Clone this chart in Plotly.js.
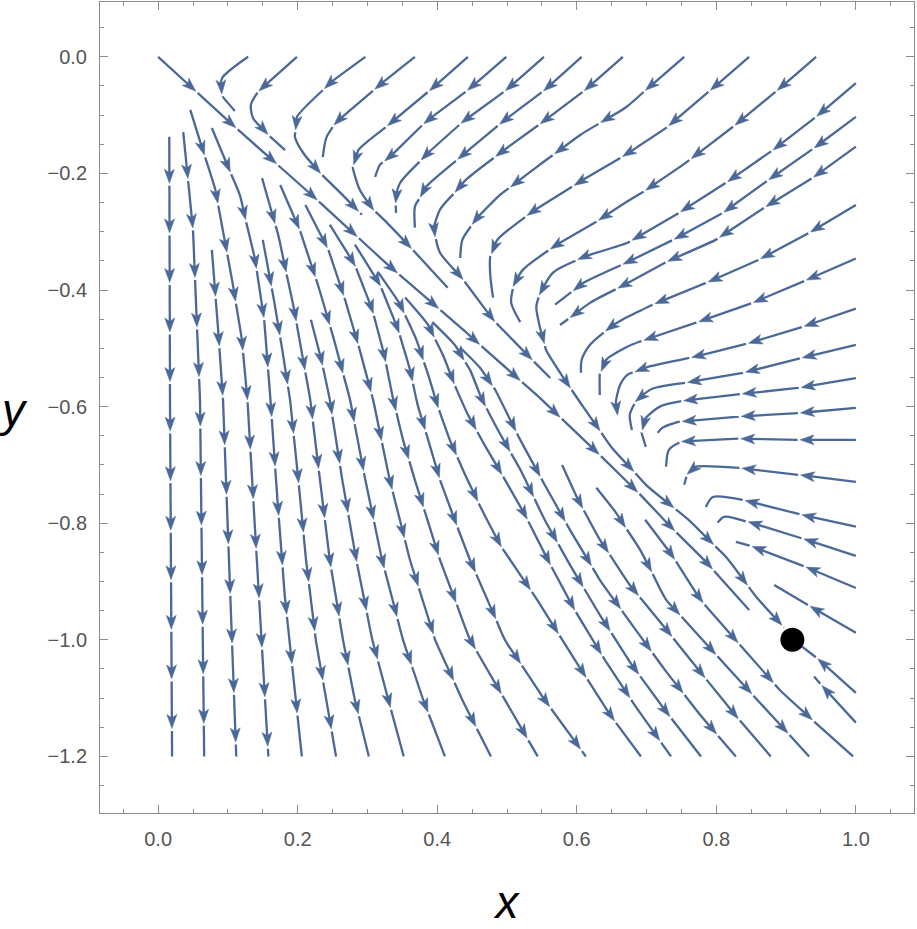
<!DOCTYPE html>
<html><head><meta charset="utf-8">
<script src="https://cdn.plot.ly/plotly-3.0.1.min.js"></script>
<style>body{margin:0;background:#fff}</style>
</head><body><div id="chart" style="width:917px;height:929px"></div>
<script>
// ---------------- data ----------------
// Streamlines that enter from the top / right edge and flow left (flow order)
const upperX = [
 [0.129,0.092,0.089,0.093,0.110],
 [0.199,0.143,0.133,0.136,0.158,0.182],
 [0.297,0.246,0.199,0.196,0.208,0.232,0.261,0.292],
 [0.368,0.325,0.254,0.241,0.236],
 [0.444,0.390,0.325,0.287,0.279,0.289,0.308,0.325,0.361,0.415],
 [0.499,0.444,0.384,0.332,0.318,0.311],
 [0.553,0.499,0.437,0.384,0.347,0.340,0.341],
 [0.607,0.554,0.494,0.437,0.384,0.368,0.368],
 [0.666,0.612,0.552,0.490,0.441,0.404,0.394,0.404,0.437,0.480,0.533,0.562],
 [0.754,0.699,0.670,0.605,0.547,0.490,0.454,0.436,0.433],
 [0.847,0.789,0.728,0.670,0.609,0.533,0.486,0.476,0.476,0.480],
 [0.943,0.885,0.824,0.756,0.695,0.670,0.628,0.566,0.523,0.509,0.506,0.519],
 [1.0,0.943,0.881,0.814,0.746,0.673,0.609,0.566,0.547,0.542,0.547,0.556,0.580,0.609,0.650,0.700,0.761,0.814,0.857,0.897],
 [1.0,0.943,0.875,0.809,0.738,0.673,0.609,0.569],
 [1.0,0.940,0.871,0.799,0.728,0.673,0.619,0.576],
 [1.0,0.933,0.861,0.785,0.709,0.673,0.648,0.619,0.607,0.606],
 [1.0,0.931,0.852,0.771,0.689,0.673,0.642,0.633,0.633],
 [1.0,0.924,0.847,0.767,0.699,0.673,0.662,0.656,0.659],
 [1.0,0.917,0.838,0.756,0.709,0.685,0.676,0.679],
 [1.0,0.917,0.838,0.752,0.719,0.698,0.693,0.699],
 [1.0,0.918,0.832,0.746,0.723,0.716],
 [1.0,0.918,0.832,0.749,0.732,0.728],
 [1.0,0.918,0.832,0.771,0.759,0.754],
 [1.0,0.924,0.838,0.795,0.785],
 [1.0,0.928,0.847,0.811,0.802],
 [1.0,0.928,0.852,0.828],
 [1.0,0.938,0.883],
 [1.0,0.947,0.920],
 [1.0,0.957,0.940]
];
const upperY = [
 [0,-0.036,-0.057,-0.069,-0.093],
 [0,-0.060,-0.082,-0.105,-0.134,-0.160],
 [0,-0.045,-0.103,-0.137,-0.165,-0.199,-0.233,-0.271],
 [0,-0.041,-0.113,-0.139,-0.172],
 [0,-0.057,-0.122,-0.160,-0.190,-0.228,-0.262,-0.281,-0.326,-0.396],
 [0,-0.057,-0.111,-0.172,-0.185,-0.206],
 [0,-0.057,-0.111,-0.168,-0.216,-0.240,-0.268],
 [0,-0.057,-0.111,-0.168,-0.223,-0.257,-0.293],
 [0,-0.057,-0.111,-0.165,-0.211,-0.262,-0.297,-0.336,-0.382,-0.451,-0.516,-0.551],
 [0,-0.057,-0.087,-0.134,-0.185,-0.237,-0.280,-0.314,-0.345],
 [0,-0.060,-0.122,-0.168,-0.211,-0.268,-0.314,-0.343,-0.374,-0.413],
 [0,-0.060,-0.120,-0.182,-0.232,-0.250,-0.283,-0.326,-0.365,-0.391,-0.422,-0.455],
 [-0.045,-0.103,-0.160,-0.216,-0.268,-0.319,-0.343,-0.370,-0.405,-0.429,-0.463,-0.503,-0.549,-0.600,-0.670,-0.735,-0.795,-0.858,-0.926,-0.979],
 [-0.103,-0.154,-0.211,-0.268,-0.314,-0.352,-0.388,-0.425],
 [-0.154,-0.206,-0.257,-0.314,-0.352,-0.388,-0.422,-0.460],
 [-0.254,-0.302,-0.348,-0.388,-0.425,-0.446,-0.463,-0.494,-0.520,-0.542],
 [-0.346,-0.382,-0.422,-0.456,-0.489,-0.497,-0.520,-0.545,-0.580],
 [-0.432,-0.463,-0.491,-0.515,-0.533,-0.545,-0.563,-0.593,-0.619],
 [-0.494,-0.518,-0.542,-0.559,-0.569,-0.588,-0.614,-0.640],
 [-0.551,-0.568,-0.578,-0.590,-0.600,-0.621,-0.645,-0.669],
 [-0.602,-0.611,-0.617,-0.626,-0.636,-0.645],
 [-0.657,-0.657,-0.655,-0.660,-0.674,-0.703],
 [-0.729,-0.717,-0.705,-0.703,-0.712,-0.734],
 [-0.806,-0.786,-0.760,-0.755,-0.772],
 [-0.856,-0.828,-0.798,-0.789,-0.799],
 [-0.911,-0.875,-0.840,-0.832],
 [-0.988,-0.945,-0.906],
 [-1.091,-1.034,-1.009],
 [-1.142,-1.086,-1.063]
];
// Streamline leaving the origin along the diagonal
const originLineX = [0,0.107,0.221,0.325,0.437,0.547,0.633,0.691,0.732,0.785,0.847];
const originLineY = [0,-0.117,-0.238,-0.352,-0.468,-0.585,-0.683,-0.751,-0.803,-0.866,-0.949];
// Streamlines below the diagonal that flow down to the bottom edge
const lowerX = [
 [0.016,0.017,0.020],
 [0.036,0.050,0.060,0.066],
 [0.077,0.086,0.093,0.112],
 [0.046,0.082,0.106,0.120,0.128,0.158],
 [0.077,0.117,0.139,0.152,0.161,0.171,0.182,0.206],
 [0.150,0.166,0.178,0.189,0.201,0.212,0.226,0.241,0.255],
 [0.149,0.172,0.195,0.218,0.232,0.246,0.265,0.282,0.302],
 [0.219,0.234,0.246,0.264,0.284,0.307,0.330,0.352],
 [0.175,0.203,0.229,0.252,0.275,0.297,0.321,0.351,0.380,0.411],
 [0.211,0.244,0.268,0.289,0.308,0.332,0.361,0.397,0.436,0.477],
 [0.246,0.282,0.307,0.324,0.337,0.351,0.368,0.404,0.447,0.497,0.544],
 [0.282,0.318,0.344,0.361,0.372,0.387,0.404,0.425,0.447,0.497,0.554,0.613],
 [0.315,0.347,0.370,0.387,0.400,0.418,0.440,0.464,0.490,0.543,0.597,0.648,0.692],
 [0.354,0.387,0.408,0.425,0.444,0.468,0.493,0.526,0.562,0.597,0.640,0.683,0.735],
 [0.393,0.425,0.447,0.464,0.487,0.519,0.554,0.590,0.633,0.679,0.726,0.778],
 [0.433,0.461,0.483,0.501,0.519,0.554,0.590,0.633,0.679,0.726,0.777,0.828],
 [0.579,0.602,0.633,0.676,0.726,0.777,0.827,0.878],
 [0.628,0.655,0.691,0.728,0.771,0.828,0.881,0.933],
 [0.698,0.736,0.777,0.834,0.891,0.941,0.996]
];
const lowerY = [
 [-0.137,-0.588,-1.2],
 [-0.129,-0.297,-0.588,-1.2],
 [-0.331,-0.468,-0.588,-1.2],
 [-0.091,-0.228,-0.383,-0.485,-0.588,-1.2],
 [-0.122,-0.237,-0.348,-0.451,-0.588,-0.760,-0.931,-1.2],
 [-0.314,-0.417,-0.503,-0.588,-0.726,-0.863,-1.0,-1.103,-1.2],
 [-0.208,-0.305,-0.434,-0.588,-0.726,-0.863,-1.0,-1.103,-1.2],
 [-0.451,-0.520,-0.588,-0.726,-0.863,-1.0,-1.103,-1.2],
 [-0.220,-0.297,-0.391,-0.485,-0.588,-0.726,-0.863,-1.0,-1.103,-1.2],
 [-0.254,-0.331,-0.417,-0.503,-0.588,-0.726,-0.863,-1.0,-1.103,-1.2],
 [-0.288,-0.357,-0.434,-0.511,-0.588,-0.657,-0.726,-0.863,-1.0,-1.103,-1.2],
 [-0.322,-0.391,-0.468,-0.537,-0.597,-0.657,-0.726,-0.794,-0.863,-1.0,-1.103,-1.2],
 [-0.369,-0.425,-0.485,-0.545,-0.597,-0.657,-0.717,-0.777,-0.837,-0.931,-1.034,-1.129,-1.2],
 [-0.413,-0.460,-0.511,-0.563,-0.614,-0.666,-0.717,-0.786,-0.871,-0.949,-1.034,-1.112,-1.2],
 [-0.455,-0.494,-0.537,-0.588,-0.640,-0.708,-0.794,-0.871,-0.957,-1.043,-1.120,-1.2],
 [-0.499,-0.533,-0.571,-0.614,-0.657,-0.734,-0.811,-0.897,-0.974,-1.051,-1.129,-1.2],
 [-0.700,-0.760,-0.828,-0.906,-0.979,-1.055,-1.129,-1.2],
 [-0.739,-0.780,-0.846,-0.931,-0.988,-1.063,-1.132,-1.2],
 [-0.794,-0.854,-0.931,-1.009,-1.086,-1.141,-1.2]
];
// Fixed point (black dot)
const fixedX = [0.909];
const fixedY = [-1.0];
// Tick labels
const xTickVals = [0, 0.2, 0.4, 0.6, 0.8, 1.0];
const xTickText = ['0.0', '0.2', '0.4', '0.6', '0.8', '1.0'];
const yTickVals = [0, -0.2, -0.4, -0.6, -0.8, -1.0, -1.2];
const yTickText = ['0.0', '\u22120.2', '\u22120.4', '\u22120.6', '\u22120.8', '\u22121.0', '\u22121.2'];

// ---------------- drawing ----------------
const W = 917, H = 929, M = {l: 100, r: 3, t: 2, b: 116};
const xRange = [-0.0833, 1.0833], yRange = [-1.297, 0.094];
const kx = (W - M.l - M.r) / (xRange[1] - xRange[0]);
const ky = (H - M.t - M.b) / (yRange[1] - yRange[0]);
const COLOR = '#4a6898';
const FIRST = 0.08, STEP = 0.085;       // arrow spacing along a streamline (data units)
const HEAD_L = 14, HEAD_W = 5, NOTCH = 3.5, GAP = 2.5, BACK = 7; // px

const lineX = [], lineY = [], headX = [], headY = [];

function cumLen(xs, ys) {
  const c = [0];
  for (let i = 1; i < xs.length; i++) c.push(c[i - 1] + Math.hypot(xs[i] - xs[i - 1], ys[i] - ys[i - 1]));
  return c;
}
function at(xs, ys, c, s) {
  s = Math.max(0, Math.min(c[c.length - 1], s));
  let i = 1;
  while (i < c.length - 1 && c[i] < s) i++;
  const d = c[i] - c[i - 1], t = d > 0 ? (s - c[i - 1]) / d : 0;
  const dx = xs[i] - xs[i - 1], dy = ys[i] - ys[i - 1];
  const f = Math.hypot(dx * kx, dy * ky) / (Math.hypot(dx, dy) || 1);
  return {x: xs[i - 1] + t * dx, y: ys[i - 1] + t * dy, f: f};
}
function addStream(xs, ys) {
  const c = cumLen(xs, ys), total = c[c.length - 1];
  const arrows = [];
  for (let s = FIRST; s <= total - 0.003; s += STEP) arrows.push(s);
  const bounds = [0].concat(arrows);
  for (let k = 0; k < bounds.length; k++) {
    let sA = bounds[k], sB = k + 1 < bounds.length ? bounds[k + 1] : total;
    if (k > 0) sA += GAP / at(xs, ys, c, sA).f;
    if (k + 1 < bounds.length) sB -= BACK / at(xs, ys, c, sB).f;
    if (sB <= sA) continue;
    const pA = at(xs, ys, c, sA), pB = at(xs, ys, c, sB);
    lineX.push(pA.x); lineY.push(pA.y);
    for (let j = 1; j < xs.length - 1; j++) if (c[j] > sA && c[j] < sB) { lineX.push(xs[j]); lineY.push(ys[j]); }
    lineX.push(pB.x); lineY.push(pB.y);
    lineX.push(null); lineY.push(null);
  }
  arrows.forEach(function (s) {
    const p = at(xs, ys, c, s);
    const q = at(xs, ys, c, s - 10 / p.f);
    let ux = (p.x - q.x) * kx, uy = (p.y - q.y) * ky;
    const L = Math.hypot(ux, uy) || 1; ux /= L; uy /= L;
    const nx = -uy, ny = ux;
    const pts = [[0, 0], [-HEAD_L * ux + HEAD_W * nx, -HEAD_L * uy + HEAD_W * ny],
      [-(HEAD_L - NOTCH) * ux, -(HEAD_L - NOTCH) * uy],
      [-HEAD_L * ux - HEAD_W * nx, -HEAD_L * uy - HEAD_W * ny], [0, 0]];
    pts.forEach(function (o) { headX.push(p.x + o[0] / kx); headY.push(p.y + o[1] / ky); });
    headX.push(null); headY.push(null);
  });
}
for (let i = 0; i < upperX.length; i++) addStream(upperX[i], upperY[i]);
addStream(originLineX, originLineY);
for (let i = 0; i < lowerX.length; i++) addStream(lowerX[i], lowerY[i]);

const traces = [
  {type: 'scatter', mode: 'lines', x: lineX, y: lineY, connectgaps: false,
   line: {color: COLOR, width: 2.3, shape: 'spline', smoothing: 0.8}, hoverinfo: 'skip', showlegend: false},
  {type: 'scatter', mode: 'lines', x: headX, y: headY, fill: 'toself', fillcolor: COLOR,
   line: {color: COLOR, width: 0.5}, hoverinfo: 'skip', showlegend: false},
  {type: 'scatter', mode: 'markers', x: fixedX, y: fixedY,
   marker: {color: '#000', size: 24}, hoverinfo: 'skip', showlegend: false}
];

const FONT = 'Liberation Sans Narrow, Liberation Sans, Arial, sans-serif';
const axisCommon = {
  showgrid: false, zeroline: false, showline: true, linecolor: '#8c8c8c', linewidth: 1,
  mirror: 'allticks', ticks: 'inside', ticklen: 8, tickwidth: 1, tickcolor: '#8c8c8c',
  tickfont: {family: FONT, size: 20, color: '#555555'},
  ticklabelstandoff: 8, fixedrange: true
};
const layout = {
  width: W, height: H, margin: M, paper_bgcolor: '#fff', plot_bgcolor: '#fff',
  showlegend: false,
  xaxis: Object.assign({}, axisCommon, {
    range: xRange, tickvals: xTickVals, ticktext: xTickText,
    minor: {tickvals: [-0.05, 0.05, 0.1, 0.15, 0.25, 0.3, 0.35, 0.45, 0.5, 0.55, 0.65, 0.7, 0.75, 0.85, 0.9, 0.95, 1.05], ticklen: 4, tickcolor: '#8c8c8c', ticks: 'inside'},
    title: {text: '<i>x</i>', font: {family: 'Liberation Sans, Arial, sans-serif', size: 46, color: '#000'}, standoff: 36}
  }),
  yaxis: Object.assign({}, axisCommon, {
    range: yRange, tickvals: yTickVals, ticktext: yTickText,
    minor: {tickvals: [0.05, -0.05, -0.1, -0.15, -0.25, -0.3, -0.35, -0.45, -0.5, -0.55, -0.65, -0.7, -0.75, -0.85, -0.9, -0.95, -1.05, -1.1, -1.15, -1.25], ticklen: 4, tickcolor: '#8c8c8c', ticks: 'inside'}
  }),
  annotations: [{text: '<i>y</i>', xref: 'paper', yref: 'paper', x: -0.106, y: 0.497, xanchor: 'center', yanchor: 'middle',
    showarrow: false, font: {family: 'Liberation Sans, Arial, sans-serif', size: 46, color: '#000'}}]
};
Plotly.newPlot('chart', traces, layout, {staticPlot: true, displayModeBar: false});
</script>
</body></html>
